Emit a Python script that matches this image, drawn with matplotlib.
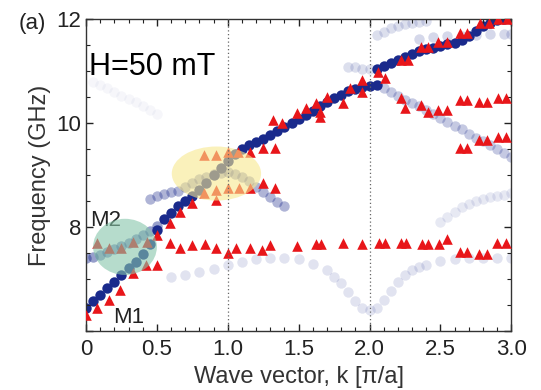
import matplotlib
matplotlib.use("Agg")
import matplotlib.pyplot as plt
from matplotlib.patches import Ellipse
from matplotlib.ticker import MultipleLocator, FuncFormatter

plt.rcParams['font.family'] = ['Liberation Sans', 'DejaVu Sans']

# simulated bands (wave vector in pi/a, frequency in GHz)
k_main = [0.00, 0.05, 0.10, 0.15, 0.20, 0.25, 0.30, 0.35, 0.40, 0.45, 0.50,
          0.55, 0.60, 0.65, 0.70, 0.75, 0.80, 0.85, 0.90, 0.95, 1.00, 1.05,
          1.10, 1.15, 1.20, 1.25, 1.30, 1.35, 1.40, 1.45, 1.50, 1.55, 1.60,
          1.65, 1.70, 1.75, 1.80, 1.85, 1.90, 1.95, 2.00, 2.05]
f_main = [6.45, 6.57, 6.70, 6.82, 6.95, 7.08, 7.21, 7.33, 7.48, 7.68, 7.95,
          8.15, 8.28, 8.40, 8.50, 8.60, 8.72, 8.85, 9.00, 9.14, 9.28, 9.40,
          9.50, 9.57, 9.63, 9.70, 9.77, 9.85, 9.93, 10.00, 10.08, 10.16, 10.24,
          10.32, 10.40, 10.48, 10.55, 10.61, 10.66, 10.70, 10.72, 10.73]

k_upper = [2.05, 2.10, 2.15, 2.20, 2.25, 2.30, 2.35, 2.40, 2.45, 2.50,
           2.55, 2.60, 2.65, 2.70, 2.75, 2.80, 2.85, 2.90, 2.95, 3.00]
f_upper = [11.05, 11.10, 11.15, 11.21, 11.27, 11.33, 11.38, 11.42, 11.45, 11.48,
           11.52, 11.55, 11.60, 11.68, 11.77, 11.86, 11.93, 11.98, 12.00, 12.00]

k_flat = [0.00, 0.05, 0.10, 0.15, 0.20, 0.25, 0.30, 0.35, 0.40, 0.45, 0.50]
f_flat = [7.40, 7.42, 7.46, 7.52, 7.58, 7.64, 7.70, 7.77, 7.85, 7.93, 8.02]

k_arc = [0.45, 0.50, 0.55, 0.60, 0.65, 0.70, 0.75, 0.80, 0.85, 0.90, 0.95,
         1.00, 1.05, 1.10, 1.15, 1.20, 1.25, 1.30, 1.35, 1.40]
f_arc = [8.55, 8.60, 8.64, 8.67, 8.70, 8.78, 8.85, 8.92, 8.97, 9.02, 9.05,
         9.06, 9.03, 8.97, 8.88, 8.78, 8.68, 8.58, 8.48, 8.40]

k_down = [2.10, 2.15, 2.20, 2.25, 2.30, 2.35, 2.40, 2.45, 2.50, 2.55,
          2.60, 2.65, 2.70, 2.75, 2.80, 2.85, 2.90, 2.95, 3.00]
f_down = [10.68, 10.60, 10.52, 10.45, 10.38, 10.32, 10.25, 10.18, 10.10, 10.02,
          9.95, 9.88, 9.80, 9.72, 9.65, 9.57, 9.50, 9.42, 9.35]

k_vee = [0.60, 0.70, 0.80, 0.90, 1.00, 1.10, 1.20, 1.30, 1.40, 1.50, 1.60,
         1.70, 1.75, 1.80, 1.85, 1.90, 1.95, 2.00, 2.05, 2.10, 2.15, 2.20,
         2.25, 2.30, 2.35, 2.40, 2.50, 2.60, 2.70, 2.80, 2.90, 3.00]
f_vee = [7.05, 7.08, 7.13, 7.20, 7.27, 7.33, 7.38, 7.40, 7.40, 7.38, 7.30,
         7.17, 7.05, 6.92, 6.75, 6.58, 6.45, 6.40, 6.45, 6.60, 6.78, 6.95,
         7.08, 7.17, 7.23, 7.28, 7.35, 7.38, 7.40, 7.40, 7.40, 7.40]

k_top = [1.85, 1.90, 1.95, 2.00, 2.05, 2.10, 2.15, 2.20, 2.25, 2.30, 2.35, 2.40]
f_top = [11.08, 11.07, 11.05, 11.05, 11.70, 11.76, 11.82, 11.86, 11.90, 11.93, 11.95, 11.97]

k_top2 = [2.35, 2.45, 2.55, 2.65, 2.75, 2.85, 2.95, 3.00]
f_top2 = [11.62, 11.65, 11.67, 11.68, 11.70, 11.71, 11.72, 11.72]

k_rarc = [2.50, 2.55, 2.60, 2.65, 2.70, 2.75, 2.80, 2.85, 2.90, 2.95, 3.00]
f_rarc = [8.10, 8.20, 8.30, 8.38, 8.45, 8.50, 8.54, 8.57, 8.60, 8.62, 8.65]

k_faint = [0.05, 0.10, 0.15, 0.20, 0.25, 0.30, 0.35, 0.40, 0.45, 0.50]
f_faint = [10.80, 10.73, 10.67, 10.60, 10.53, 10.47, 10.40, 10.33, 10.25, 10.18]

# measured modes
k_meas = [0.00, 0.08, 0.16, 0.24, 0.08, 0.16, 0.25, 0.33, 0.43, 0.50, 0.33, 0.42, 0.50,
          0.59, 0.66, 0.75, 0.59, 0.66, 0.75, 0.84, 0.92, 1.00, 1.06, 1.16, 1.24, 1.30,
          1.49, 1.62, 1.66, 1.81, 1.95, 2.07, 2.11, 2.22, 2.26, 2.37, 2.41, 2.49, 2.55,
          2.64, 2.69, 2.77, 2.83, 2.90, 2.96,
          0.83, 0.92, 1.00, 1.07, 1.16, 1.25, 1.33,
          0.83, 0.92, 1.00, 1.08, 1.16, 1.25, 1.33, 0.92,
          1.32, 1.38, 1.49, 1.55, 1.62, 1.65, 1.65, 1.70, 1.81, 1.86, 1.95, 1.95,
          2.06, 2.11, 2.22, 2.25, 2.36, 2.41, 2.48, 2.55, 2.64, 2.69, 2.77, 2.83,
          2.91, 2.96, 2.64, 2.69, 2.77, 2.83, 2.91, 2.96,
          2.22, 2.27, 2.36, 2.41, 2.48, 2.55, 2.64, 2.69, 2.78, 2.84, 2.91, 2.97]
f_meas = [6.31, 6.44, 6.60, 6.79, 7.69, 7.60, 7.60, 7.72, 7.72, 7.85, 7.12, 7.27, 7.27,
          8.08, 8.30, 8.46, 7.69, 7.60, 7.65, 7.68, 7.60, 7.50, 7.60, 7.60, 7.56, 7.65,
          7.63, 7.67, 7.67, 7.69, 7.67, 7.70, 7.70, 7.70, 7.70, 7.68, 7.68, 7.68, 7.78,
          7.52, 7.52, 7.48, 7.48, 7.69, 7.69,
          9.38, 9.38, 9.44, 9.44, 9.44, 9.52, 9.52,
          8.65, 8.71, 8.75, 8.75, 8.75, 8.85, 8.75, 8.52,
          10.06, 10.00, 10.19, 10.29, 10.38, 10.21, 10.12, 10.50, 10.38, 10.67, 10.83, 10.60,
          10.98, 10.87, 10.48, 10.29, 10.35, 10.21, 10.25, 10.25, 10.44, 10.44, 10.40, 10.40,
          10.48, 10.48, 9.52, 9.52, 9.67, 9.67, 9.73, 9.73,
          11.21, 11.21, 11.46, 11.46, 11.56, 11.56, 11.73, 11.73, 11.92, 11.92, 12.00, 12.00]

navy = '#1a2a8c'

fig = plt.figure(figsize=(5.41, 3.90), dpi=100)
ax = fig.add_axes([0.159, 0.151, 0.786, 0.800])

sz = 56
ax.scatter(k_faint, f_faint, s=sz, color=navy, alpha=0.04, lw=0)
ax.scatter(k_rarc, f_rarc, s=sz, color=navy, alpha=0.10, lw=0)
ax.scatter(k_vee, f_vee, s=sz, color=navy, alpha=0.13, lw=0)
ax.scatter(k_top, f_top, s=sz, color=navy, alpha=0.15, lw=0)
ax.scatter(k_top2, f_top2, s=sz, color=navy, alpha=0.18, lw=0)
ax.scatter(k_down, f_down, s=sz, color=navy, alpha=0.25, lw=0)
ax.scatter(k_arc, f_arc, s=sz, color=navy, alpha=0.35, lw=0)
ax.scatter(k_flat, f_flat, s=sz, color=navy, alpha=0.45, lw=0)
ax.scatter(k_main, f_main, s=sz, color=navy, lw=0)
ax.scatter(k_upper, f_upper, s=sz, color=navy, lw=0)

ax.scatter(k_meas, f_meas, s=58, marker='^', color='#e8161a', lw=0, zorder=3)

# highlighted regions: M1/M2 crossing and the gap at k=1
ax.add_patch(Ellipse((0.275, 7.62), 0.45, 1.08, color='#86c6aa', alpha=0.6, lw=0, zorder=4))
ax.add_patch(Ellipse((0.92, 9.03), 0.63, 1.04, color='#f8e88e', alpha=0.6, lw=0, zorder=4))

for kb in (1.0, 2.0):
    ax.axvline(kb, color='#666666', ls=(0, (1, 2)), lw=0.9, zorder=5)

ax.set_xlim(0, 3.0)
ax.set_ylim(6.0, 12.0)
ax.xaxis.set_major_locator(MultipleLocator(0.5))
ax.xaxis.set_minor_locator(MultipleLocator(0.1))
ax.yaxis.set_major_locator(MultipleLocator(2))
ax.yaxis.set_minor_locator(MultipleLocator(0.5))
ax.xaxis.set_major_formatter(FuncFormatter(lambda v, p: '0' if abs(v) < 1e-9 else f'{v:.1f}'))
ax.yaxis.set_major_formatter(FuncFormatter(lambda v, p: '' if v < 7 else f'{v:.0f}'))
ax.tick_params(which='both', direction='in', top=True, right=True, labelsize=16,
               colors='#222222')
ax.tick_params(axis='x', pad=6)
ax.tick_params(which='major', length=5, width=1)
ax.tick_params(which='minor', length=3, width=0.8)
for sp in ax.spines.values():
    sp.set_linewidth(1.0)
    sp.set_color('#333333')

ax.set_xlabel('Wave vector, k [π/a]', fontsize=17, color='#333333', labelpad=4)
ax.set_ylabel('Frequency (GHz)', fontsize=17, color='#333333', labelpad=4)

ax.text(0.02, 10.93, 'H=50 mT', fontsize=22, color='black', va='baseline')
ax.text(0.03, 8.03, 'M2', fontsize=16, color='#222222', va='baseline')
ax.text(0.19, 6.15, 'M1', fontsize=16, color='#222222', va='baseline')
fig.text(0.035, 0.925, '(a)', fontsize=16, color='#222222')

fig.savefig('out.png', dpi=100)
